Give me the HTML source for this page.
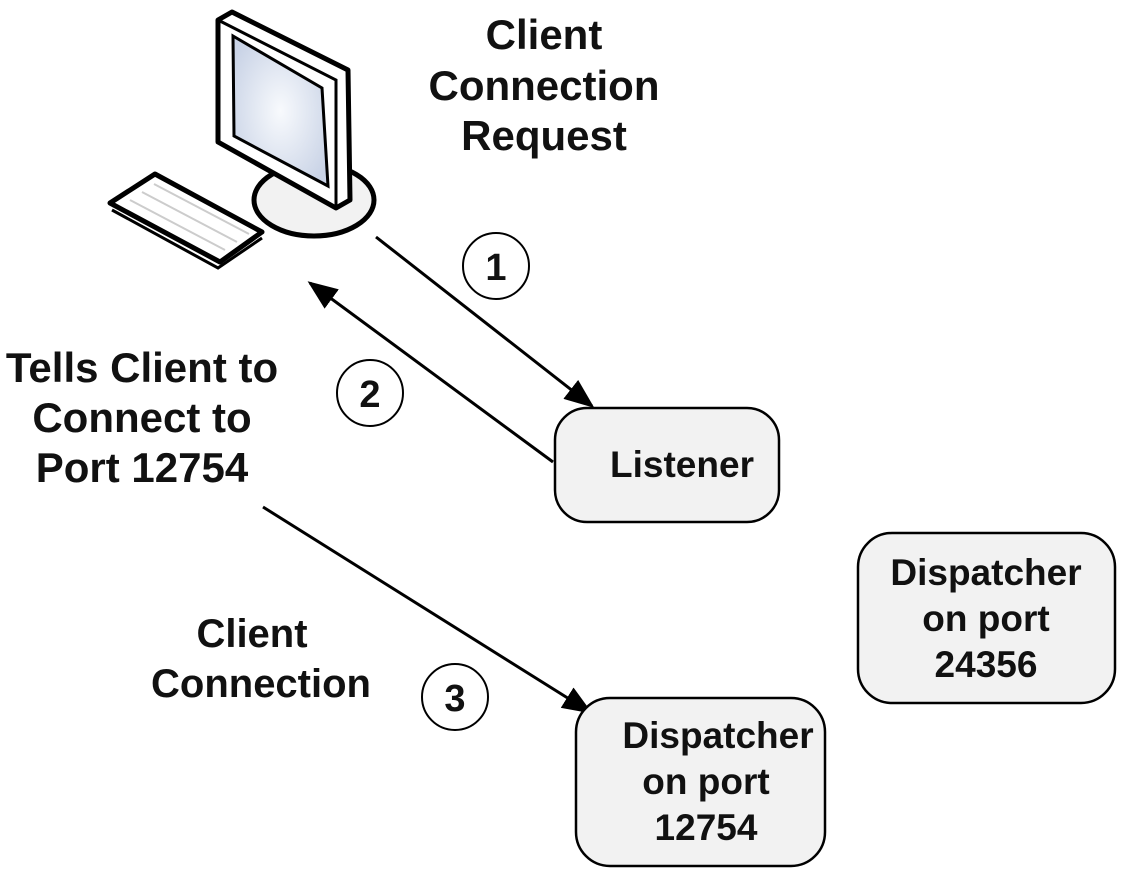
<!DOCTYPE html>
<html><head><meta charset="utf-8"><style>
html,body{margin:0;padding:0;background:#fff;}
svg{display:block;}
text{font-family:"Liberation Sans",Arial,sans-serif;font-weight:bold;fill:#111;}
</style></head><body>
<svg width="1122" height="872" viewBox="0 0 1122 872" xmlns="http://www.w3.org/2000/svg">
<defs>
<radialGradient id="scr" cx="0.5" cy="0.5" r="0.6"><stop offset="0" stop-color="#f8fafd"/><stop offset="1" stop-color="#c9d3e6"/></radialGradient>
<marker id="ah" markerWidth="10" markerHeight="8" refX="9" refY="4" orient="auto" markerUnits="strokeWidth"><path d="M0,0 L10,4 L0,8 z" fill="#000"/></marker>
</defs>
<ellipse cx="314" cy="200" rx="60" ry="36" fill="#f2f2f2" stroke="#000" stroke-width="5"/>
<path d="M218,20 L232,12 L348,70 L350,200 L336,208 L218,142 Z" fill="#fff" stroke="#000" stroke-width="5" stroke-linejoin="round"/>
<path d="M218,20 L336,80 L336,208" fill="none" stroke="#000" stroke-width="3"/>
<path d="M233,36 L322,88 L328,186 L234,136 Z" fill="url(#scr)" stroke="#000" stroke-width="3"/>
<path d="M110,203 L155,174 L262,232 L220,262 Z" fill="#fff" stroke="#000" stroke-width="5" stroke-linejoin="round"/>
<path d="M112,210 L218,268 L262,238" fill="none" stroke="#000" stroke-width="3"/>
<g stroke="#ccc" stroke-width="2" fill="none">
<path d="M130,200 L225,250"/><path d="M142,192 L237,242"/><path d="M154,184 L249,234"/>
</g>
<line x1="376" y1="237" x2="592" y2="406" stroke="#000" stroke-width="3" marker-end="url(#ah)"/>
<line x1="553" y1="462" x2="310" y2="283" stroke="#000" stroke-width="3" marker-end="url(#ah)"/>
<line x1="263" y1="507" x2="590" y2="712" stroke="#000" stroke-width="3" marker-end="url(#ah)"/>
<circle cx="496" cy="266" r="33" fill="#fff" stroke="#000" stroke-width="2"/>
<text x="496" y="280" font-size="38" text-anchor="middle">1</text>
<circle cx="370" cy="393" r="33" fill="#fff" stroke="#000" stroke-width="2"/>
<text x="370" y="407" font-size="38" text-anchor="middle">2</text>
<circle cx="455" cy="697" r="33" fill="#fff" stroke="#000" stroke-width="2"/>
<text x="455" y="711" font-size="38" text-anchor="middle">3</text>
<rect x="555" y="408" width="224" height="114" rx="32" fill="#f2f2f2" stroke="#000" stroke-width="2.5"/>
<text x="682" y="477" font-size="37" text-anchor="middle">Listener</text>
<rect x="858" y="533" width="257" height="170" rx="34" fill="#f2f2f2" stroke="#000" stroke-width="2.5"/>
<text font-size="37" text-anchor="middle"><tspan x="986" y="585">Dispatcher</tspan><tspan x="986" y="631">on port</tspan><tspan x="986" y="677">24356</tspan></text>
<rect x="576" y="698" width="249" height="168" rx="34" fill="#f2f2f2" stroke="#000" stroke-width="2.5"/>
<text font-size="37" text-anchor="middle"><tspan x="718" y="748">Dispatcher</tspan><tspan x="706" y="794">on port</tspan><tspan x="706" y="840">12754</tspan></text>
<text font-size="42" text-anchor="middle"><tspan x="544" y="49">Client</tspan><tspan x="544" y="100">Connection</tspan><tspan x="544" y="150">Request</tspan></text>
<text font-size="42" text-anchor="middle"><tspan x="142" y="382">Tells Client to</tspan><tspan x="142" y="432">Connect to</tspan><tspan x="142" y="482">Port 12754</tspan></text>
<text font-size="40" text-anchor="middle"><tspan x="252" y="647">Client</tspan><tspan x="261" y="697">Connection</tspan></text>
</svg>
</body></html>
